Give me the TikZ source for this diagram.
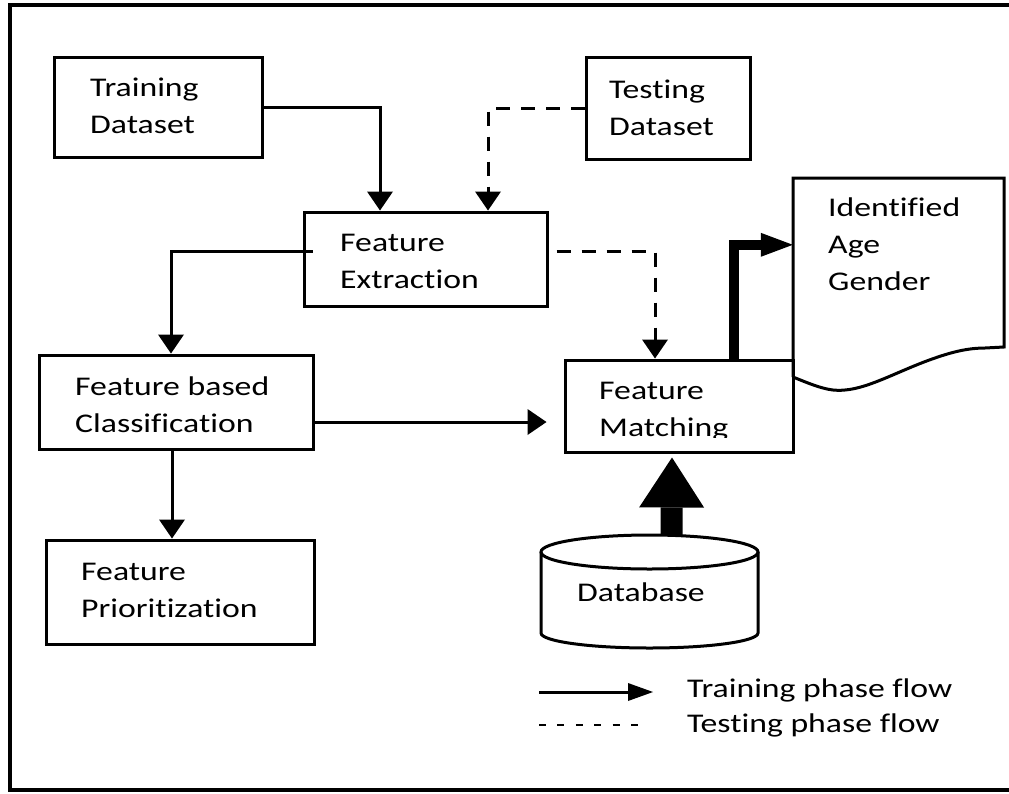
\documentclass[tikz,border=0pt]{standalone}
\usepackage{fontspec}
\setmainfont{Carlito}[FakeStretch=1.25, Ligatures=NoCommon]
\usetikzlibrary{arrows.meta}
\begin{document}
\begin{tikzpicture}[x=1pt,y=-1pt,
  box/.style={draw, line width=3pt, rectangle, inner sep=0pt},
  lbl/.style={font=\fontsize{27pt}{37pt}\selectfont, anchor=base west, inner sep=0pt, align=left},
  flow/.style={line width=3pt, -{Triangle[width=26pt,length=19pt,line width=0pt]}},
  testflow/.style={flow, dash pattern=on 14pt off 11pt},
  bigflow/.style={line join=miter}
]
\useasboundingbox (0,0) rectangle (1009,793);
% outer frame
\draw[line width=4pt, line join=miter] (1015,5) -- (10,5) -- (10,790) -- (1015,790);

% process boxes
\node[box, minimum width=208pt, minimum height=100pt] (train) at (158,107) {};
\node[box, minimum width=164pt, minimum height=102pt] (test) at (668,108) {};
\node[box, minimum width=243pt, minimum height=94pt] (fe) at (425.5,259) {};
\node[box, minimum width=274pt, minimum height=94pt] (fbc) at (176,402) {};
\node[box, minimum width=268pt, minimum height=104pt] (fp) at (180,592) {};
\node[box, minimum width=228pt, minimum height=92pt] (fm) at (679,406) {};

% box labels (anchored at the baseline of the last line)
\node[lbl] (trainT) at (90,133) {Training\\Dataset};
\node[lbl] (testT) at (609,135) {Testing\\Dataset};
\node[lbl] (feT) at (340,288) {Feature\\Extraction};
\node[lbl] (fbcT) at (75,432) {Feature based\\Classification};
\node[lbl] (fpT) at (81,617) {Feature\\Prioritization};
\begin{scope}
  \clip (560,360) rectangle (800,437);
  \node[lbl] (fmT) at (599,436) {Feature\\Matching};
\end{scope}

% output document
\node[inner sep=0pt, minimum width=211pt, minimum height=199pt] (doc) at (898.5,277.5) {};
\draw[line width=3pt, line join=miter] (793,377) -- (793,178) -- (1004,178) -- (1004,347) -- (985,348)
  .. controls (970,348) and (955,351) .. (935,358)
  .. controls (900,370) and (870,388) .. (845,390)
  .. controls (830,392) and (815,386) .. (793,377);
\node[lbl] (docT) at (828,290) {Identified\\Age\\Gender};

% database cylinder
\node[inner sep=0pt, minimum width=217pt, minimum height=113pt] (db) at (649.5,591.5) {};
\draw[line width=3pt] (649.5,552) ellipse [x radius=108.5pt, y radius=17pt];
\draw[line width=3pt] (541,552) -- (541,633) arc[start angle=180, end angle=360, x radius=108.5pt, y radius=15pt] -- (758,552);
\node[lbl] (dbT) at (577,601) {Database};

% connectors
\draw[flow] (train.east) -| ([xshift=-45.5pt]fe.north);
\draw[testflow] (test.west) -| ([xshift=62.5pt]fe.north);
\draw[flow] ([shift={(10pt,8pt)}]fe.west) -| ([xshift=-5pt]fbc.north);
\draw[testflow] ([shift={(8pt,8pt)}]fe.east) -| ([xshift=-24pt]fm.north);
\draw[flow] ([yshift=-20pt]fbc.east) -- ([shift={(-17pt,-16pt)}]fm.west);
\draw[flow] ([xshift=-4pt]fbc.south) -- ([xshift=-8pt]fp.north);
\draw[bigflow, line width=10pt, -{Triangle[width=24pt,length=32pt,line width=0pt]}]
  ([xshift=55pt]fm.north) |- ([yshift=-67pt]doc.north west);
\draw[bigflow, line width=22pt, -{Triangle[width=65pt,length=50pt,line width=0pt]}]
  ([xshift=22pt]db.north) -- ([shift={(-7pt,-4pt)}]fm.south);

% legend
\coordinate (legA) at (539,692);
\coordinate (legB) at (653,692);
\coordinate (legC) at (539,725);
\coordinate (legD) at (638,725);
\draw[line width=3pt, -{Triangle[width=18pt,length=25pt,line width=0pt]}] (legA) -- (legB);
\draw[line width=2pt, dash pattern=on 7pt off 11.4pt] (legC) -- (legD);
\node[lbl] (legT1) at (687,697) {Training phase flow};
\node[lbl] (legT2) at (687,732) {Testing phase flow};
\end{tikzpicture}
\end{document}
